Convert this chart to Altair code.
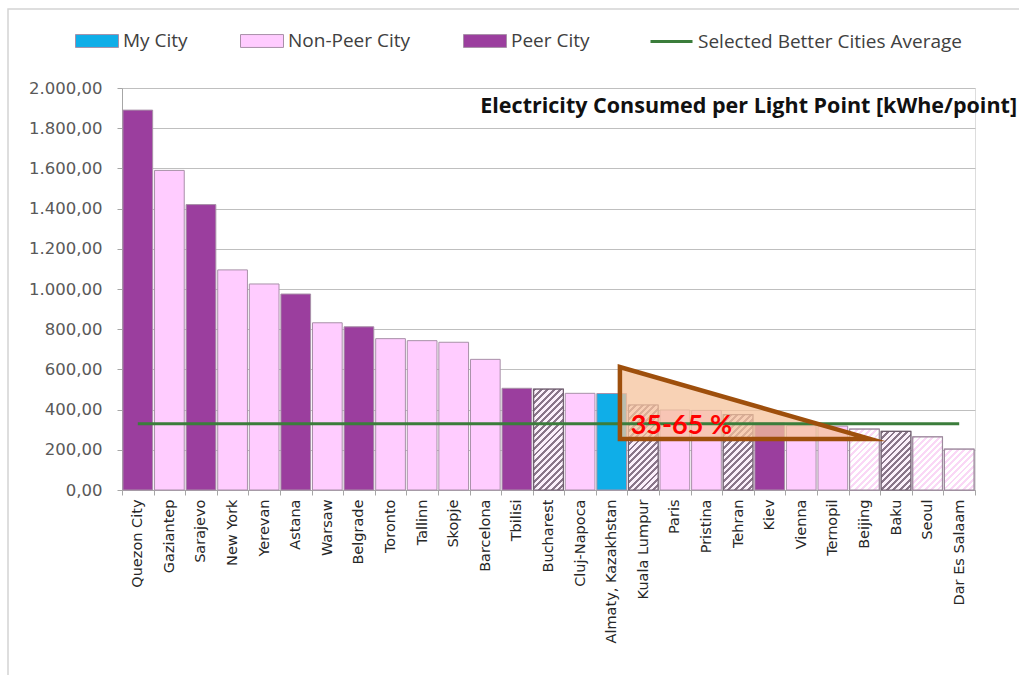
import altair as alt
import pandas as pd

cities = ["Quezon City", "Gaziantep", "Sarajevo", "New York", "Yerevan", "Astana", "Warsaw",
          "Belgrade", "Toronto", "Tallinn", "Skopje", "Barcelona", "Tbilisi", "Bucharest",
          "Cluj-Napoca", "Almaty, Kazakhstan", "Kuala Lumpur", "Paris", "Pristina", "Tehran",
          "Kiev", "Vienna", "Ternopil", "Beijing", "Baku", "Seoul", "Dar Es Salaam"]
values = [1890, 1590, 1420, 1095, 1025, 975, 832, 812, 753, 743, 735, 650, 506, 502,
          481, 480, 423, 398, 396, 375, 335, 320, 318, 303, 292, 264, 203]
groups = ["Peer City", "Non-Peer City", "Peer City", "Non-Peer City", "Non-Peer City", "Peer City",
          "Non-Peer City", "Peer City", "Non-Peer City", "Non-Peer City", "Non-Peer City",
          "Non-Peer City", "Peer City", "Non-Peer City", "Non-Peer City", "My City",
          "Non-Peer City", "Non-Peer City", "Non-Peer City", "Non-Peer City", "Peer City",
          "Non-Peer City", "Non-Peer City", "Non-Peer City", "Non-Peer City", "Non-Peer City",
          "Non-Peer City"]
dark_hatch = ["Bucharest", "Kuala Lumpur", "Tehran", "Baku"]
light_hatch = ["Beijing", "Seoul", "Dar Es Salaam"]
average_value = 330
average_label = "Selected Better Cities Average"

legend_domain = ["My City", "Non-Peer City", "Peer City"]
legend_colors = ["#0FAEE8", "#FFCCFF", "#9B3E9E"]

# annotation triangle (x in category-index units, y in kWhe/point)
tri_x = [15.76, 15.76, 23.68, 15.76, 15.76]
tri_y = [433, 254, 254, 612, 433]
tri_fill_x = [15.76, 23.68]
tri_fill_y = [612, 254]
tri_fill_y2 = [254, 254]
note_text = ["35-65 %"]
note_x = [16.1]
note_y = [318]

W, H = 853, 402
n = len(cities)

df = pd.DataFrame({"city": cities, "value": values, "group": groups,
                   "avg": [average_value] * n, "series": [average_label] * n})

ymax = 2000
y_axis = alt.Axis(values=list(range(0, 2001, 200)), title=None,
                  labelExpr="replace(replace(replace(format(datum.value, ',.2f'), ',', '#'), '.', ','), '#', '.')",
                  grid=True, gridColor="#BFBFBF", gridWidth=1,
                  domainColor="#A6A6A6", tickColor="#A6A6A6", tickSize=5,
                  labelFont="DejaVu Sans", labelFontSize=16.5, labelColor="#595959", labelPadding=15)


def yenc(field):
    return alt.Y(f"{field}:Q", scale=alt.Scale(domain=[0, ymax], nice=False), axis=y_axis)


xscale = alt.Scale(domain=cities, paddingInner=0, paddingOuter=0)


def xenc(show=False):
    if show:
        ax = alt.Axis(title=None, labelAngle=270, labelAlign="right", labelBaseline="middle",
                      tickBand="extent", labelFont="DejaVu Sans", labelFontSize=14.5,
                      labelColor="#262626", domainColor="#A6A6A6", tickColor="#A6A6A6",
                      tickSize=5, labelPadding=4, labelLimit=300, grid=False)
        return alt.X("city:N", scale=xscale, axis=ax, sort=cities)
    return alt.X("city:N", scale=xscale, axis=None, sort=cities)


bar_w = alt.RelativeBandSize(0.94)

bars = alt.Chart(df).mark_bar(width=bar_w, stroke="#A890A8", strokeWidth=1).encode(
    x=xenc(True),
    y=yenc("value"),
    fill=alt.Fill("group:N", scale=alt.Scale(domain=legend_domain, range=legend_colors),
                  legend=alt.Legend(title=None, orient="none", legendX=-47, legendY=-69,
                                    direction="horizontal", symbolType="M-1,-0.3H1V0.3H-1Z",
                                    symbolSize=1849, symbolStrokeColor="#A890A8",
                                    symbolStrokeWidth=1, labelFont="Open Sans", labelFontSize=19,
                                    labelColor="#404040", columnPadding=50, labelOffset=4,
                                    labelLimit=300)),
)

step = W / n
bw = 0.94 * step


def hatch_layer(city, value, stripe, bg, border):
    h = value / ymax * H
    w = bw
    k = (w + h) / (w * w + h * h)
    periods = max(3, round((w + h) / 6.5))
    stops = []
    for i in range(periods):
        a = i / periods
        b = (i + 0.45) / periods
        c = (i + 1) / periods
        stops += [{"offset": a, "color": stripe}, {"offset": b, "color": stripe},
                  {"offset": b, "color": bg}, {"offset": c, "color": bg}]
    grad = {"gradient": "linear", "x1": 0, "y1": 0, "x2": w * k, "y2": h * k, "stops": stops}
    return alt.Chart(df).transform_filter(alt.datum.city == city).mark_bar(
        width=bar_w, fill=grad, stroke=border, strokeWidth=1.2).encode(
        x=xenc(), y=yenc("value"))


hatches = []
for c in dark_hatch:
    hatches.append(hatch_layer(c, values[cities.index(c)], "#8A768A", "#FBF0FB", "#6E5E6E"))
for c in light_hatch:
    hatches.append(hatch_layer(c, values[cities.index(c)], "#FAD8F6", "#FFFFFF", "#9C889C"))

avg_line = alt.Chart(df).mark_line(strokeWidth=3).encode(
    x=xenc(),
    y=yenc("avg"),
    stroke=alt.Stroke("series:N", scale=alt.Scale(domain=[average_label], range=["#3B7D3B"]),
                      legend=alt.Legend(title=None, orient="none", legendX=527, legendY=-69,
                                        symbolType="stroke", symbolSize=1764, symbolStrokeWidth=3,
                                        labelFont="Open Sans", labelFontSize=19,
                                        labelColor="#404040", labelOffset=4, labelLimit=400)),
)

qx = alt.Scale(domain=[0, n], nice=False, zero=False)

tri_fill_df = pd.DataFrame({"x": tri_fill_x, "y": tri_fill_y, "y2": tri_fill_y2})
tri_fill = alt.Chart(tri_fill_df).mark_area(color="#F6C39C", opacity=0.75).encode(
    x=alt.X("x:Q", scale=qx, axis=None),
    y=yenc("y"),
    y2="y2:Q",
)

tri_df = pd.DataFrame({"x": tri_x, "y": tri_y, "o": list(range(len(tri_x)))})
tri_line = alt.Chart(tri_df).mark_line(color="#9E4F0C", strokeWidth=4.5, strokeJoin="miter",
                                       strokeMiterLimit=12).encode(
    x=alt.X("x:Q", scale=qx, axis=None),
    y=yenc("y"),
    order="o:Q",
)

note_df = pd.DataFrame({"t": note_text, "x": note_x, "y": note_y})
note = alt.Chart(note_df).mark_text(font="Lato", fontWeight="bold", fontSize=27, color="#FF0000",
                                    align="left", baseline="middle").encode(
    x=alt.X("x:Q", scale=qx, axis=None),
    y=yenc("y"),
    text="t:N",
)

title_df = pd.DataFrame({"t": ["Electricity Consumed per Light Point [kWhe/point]"]})
title = alt.Chart(title_df).mark_text(font="Open Sans", fontWeight="bold", fontSize=21.5,
                                      color="#111111", align="right", baseline="middle").encode(
    x=alt.value(895), y=alt.value(19), text="t:N")

frame = alt.Chart(pd.DataFrame({"a": [0]})).mark_rect(fillOpacity=0, stroke="#D4D4D4",
                                                       strokeWidth=1.5).encode(
    x=alt.value(-114), x2=alt.value(905), y=alt.value(-79), y2=alt.value(595))

chart = alt.layer(frame, bars, *hatches, tri_fill, avg_line, tri_line, note, title).resolve_scale(
    x="independent"
).properties(
    width=W, height=H,
    autosize=alt.AutoSizeParams(type="none"),
    padding={"left": 122, "top": 88, "right": 44, "bottom": 185},
).configure_view(stroke=None).configure(background="white")

chart.save("out.html", embed_options={"renderer": "svg", "actions": False})
